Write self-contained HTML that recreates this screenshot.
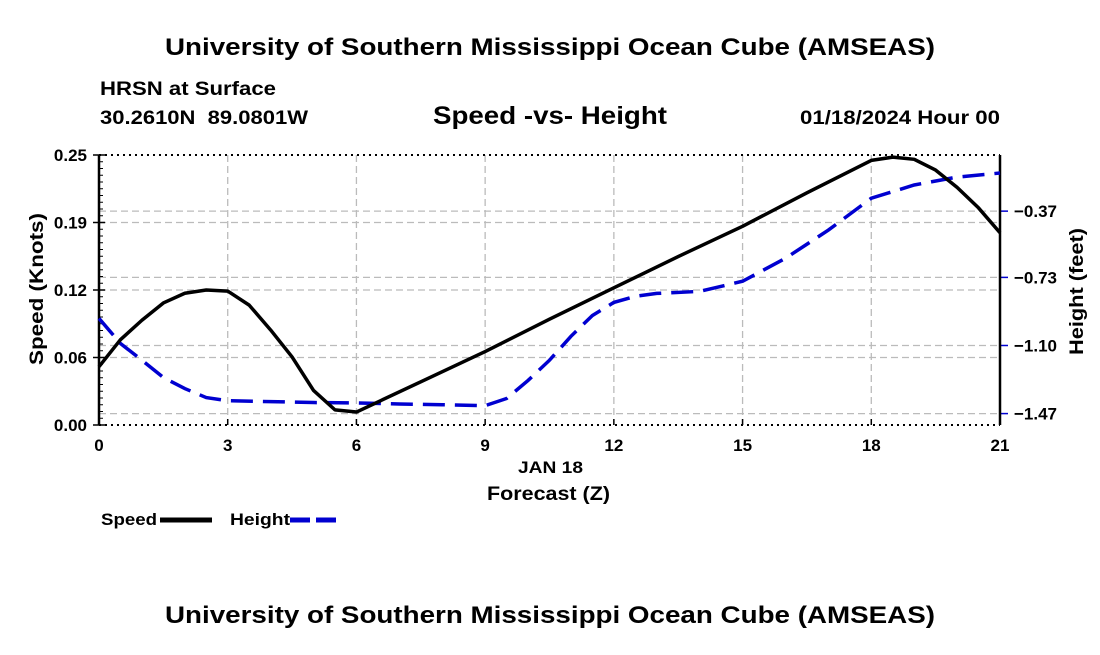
<!DOCTYPE html>
<html><head><meta charset="utf-8"><style>
body{margin:0;background:#fff;}
svg text{font-family:"Liberation Sans",sans-serif;font-weight:bold;fill:#000;}
</style></head><body>
<svg id="c" width="1100" height="650" viewBox="0 0 1100 650" xmlns="http://www.w3.org/2000/svg">
<text x="165" y="55" font-size="24" textLength="770" lengthAdjust="spacingAndGlyphs">University of Southern Mississippi Ocean Cube (AMSEAS)</text>
<text x="100" y="95" font-size="19" textLength="176" lengthAdjust="spacingAndGlyphs">HRSN at Surface</text>
<text x="100" y="124" font-size="19" textLength="208" lengthAdjust="spacingAndGlyphs" xml:space="preserve">30.2610N  89.0801W</text>
<text x="433" y="124" font-size="25" textLength="234" lengthAdjust="spacingAndGlyphs">Speed -vs- Height</text>
<text x="800" y="124" font-size="19" textLength="200" lengthAdjust="spacingAndGlyphs">01/18/2024 Hour 00</text>
<g id="grid"></g><g id="axes"></g><g id="series"></g>
<text x="518" y="473" font-size="17" textLength="65" lengthAdjust="spacingAndGlyphs">JAN 18</text>
<text x="487" y="500" font-size="19" textLength="123" lengthAdjust="spacingAndGlyphs">Forecast (Z)</text>
<text transform="translate(43,365) rotate(-90)" font-size="19" textLength="152" lengthAdjust="spacingAndGlyphs">Speed (Knots)</text>
<text transform="translate(1083,355) rotate(-90)" font-size="19" textLength="127" lengthAdjust="spacingAndGlyphs">Height (feet)</text>
<g>
<text x="101" y="525" font-size="17" textLength="56" lengthAdjust="spacingAndGlyphs">Speed</text>
<line x1="160" y1="520" x2="212" y2="520" stroke="#000" stroke-width="5"/>
<text x="230" y="525" font-size="17" textLength="60" lengthAdjust="spacingAndGlyphs">Height</text>
<line x1="290" y1="520" x2="342" y2="520" stroke="#0000d0" stroke-width="5" stroke-dasharray="20,6"/>
</g>
<text x="165" y="623" font-size="24" textLength="770" lengthAdjust="spacingAndGlyphs">University of Southern Mississippi Ocean Cube (AMSEAS)</text>
</svg>
<script>
const hours=[0,0.5,1,1.5,2,2.5,3,3.5,4,4.5,5,5.5,6,7.5,9,10.5,12,13.5,15,16.5,18,18.5,19,19.5,20,20.5,21];
const speed=[0.054,0.079,0.097,0.113,0.122,0.125,0.124,0.111,0.088,0.063,0.032,0.014,0.012,0.040,0.068,0.098,0.127,0.156,0.184,0.215,0.245,0.248,0.246,0.236,0.220,0.201,0.178];
const hHours=[0,0.5,1,1.5,2,2.5,3,4,5,6,7,8,9,9.5,10,10.5,11,11.5,12,12.5,13,14,15,16,17,18,19,20,21];
const height=[-0.953,-1.089,-1.18,-1.274,-1.334,-1.383,-1.40,-1.405,-1.41,-1.412,-1.418,-1.422,-1.427,-1.388,-1.29,-1.18,-1.05,-0.937,-0.866,-0.833,-0.817,-0.806,-0.751,-0.626,-0.473,-0.30,-0.228,-0.185,-0.163];
const xTicks=[0,3,6,9,12,15,18,21];
const leftTicks=[0,0.0625,0.125,0.1875,0.25];
const leftLabels=["0.00","0.06","0.12","0.19","0.25"];
const rightTicks=[-1.47,-1.10,-0.73,-0.37];
const rightLabels=["\u22121.47","\u22121.10","\u22120.73","\u22120.37"];
const L=99,R=1000,T=155,B=425;
const X=h=>L+(h/21)*(R-L);
const YL=v=>B-(v/0.25)*(B-T);
const HMIN=-1.532,HMAX=-0.065;
const YR=v=>B-((v-HMIN)/(HMAX-HMIN))*(B-T);
const NS="http://www.w3.org/2000/svg";
function mk(p,tag,attrs){const e=document.createElementNS(NS,tag);for(const k in attrs)e.setAttribute(k,attrs[k]);p.appendChild(e);return e;}
const grid=document.getElementById('grid'),axes=document.getElementById('axes'),ser=document.getElementById('series');
xTicks.forEach((t,i)=>{
 if(t>0&&t<21){const g=mk(grid,'line',{x1:X(t),x2:X(t),y1:T,y2:B,stroke:'#bbb','stroke-width':1.3,'stroke-dasharray':'7,4'});
 
 }
 const tx=mk(axes,'text',{x:X(t),y:B+26,'font-size':17,'text-anchor':'middle'});tx.textContent=t;
 
 
 mk(axes,'line',{x1:X(t),x2:X(t),y1:B,y2:B-6,stroke:'#000','stroke-width':1.5});
});
leftTicks.forEach((t,i)=>{
 if(t>0&&t<0.25){const g=mk(grid,'line',{x1:L,x2:R,y1:YL(t),y2:YL(t),stroke:'#bbb','stroke-width':1.3,'stroke-dasharray':'7,4'});
 
 }
 const tx=mk(axes,'text',{x:L-12,y:YL(t)+6,'font-size':17,'text-anchor':'end'});tx.textContent=leftLabels[i];
 
 
 mk(axes,'line',{x1:L-6,x2:L+6,y1:YL(t),y2:YL(t),stroke:'#000','stroke-width':1.5});
});
for(let v=0;v<=0.25001;v+=0.25/40){mk(axes,'line',{x1:L,x2:L+4,y1:YL(v),y2:YL(v),stroke:'#000','stroke-width':1});}
rightTicks.forEach((t,i)=>{
 const g=mk(grid,'line',{x1:L,x2:R,y1:YR(t),y2:YR(t),stroke:'#bbb','stroke-width':1.3,'stroke-dasharray':'7,4'});
 
 
 mk(axes,'line',{x1:R,x2:R+8,y1:YR(t),y2:YR(t),stroke:'#0000d0','stroke-width':1.5});
 const tx=mk(axes,'text',{x:R+14,y:YR(t)+6,'font-size':17});tx.textContent=rightLabels[i];
 
 
});
mk(axes,'line',{x1:L,x2:R,y1:T,y2:T,stroke:'#000','stroke-width':2,'stroke-dasharray':'2,4'});
mk(axes,'line',{x1:L,x2:R,y1:B,y2:B,stroke:'#000','stroke-width':2,'stroke-dasharray':'2,4'});
mk(axes,'line',{x1:L,x2:L,y1:T,y2:B,stroke:'#000','stroke-width':2.5});
mk(axes,'line',{x1:R,x2:R,y1:T,y2:B,stroke:'#000','stroke-width':2.5});
const hp=mk(ser,'polyline',{points:hHours.map((h,i)=>X(h)+','+YR(height[i])).join(' '),fill:'none',stroke:'#0000d0','stroke-width':3.5,'stroke-dasharray':'22,10'});


const sp=mk(ser,'polyline',{points:hours.map((h,i)=>X(h)+','+YL(speed[i])).join(' '),fill:'none',stroke:'#000','stroke-width':3.5,'stroke-linejoin':'round'});


</script>
</body></html>
